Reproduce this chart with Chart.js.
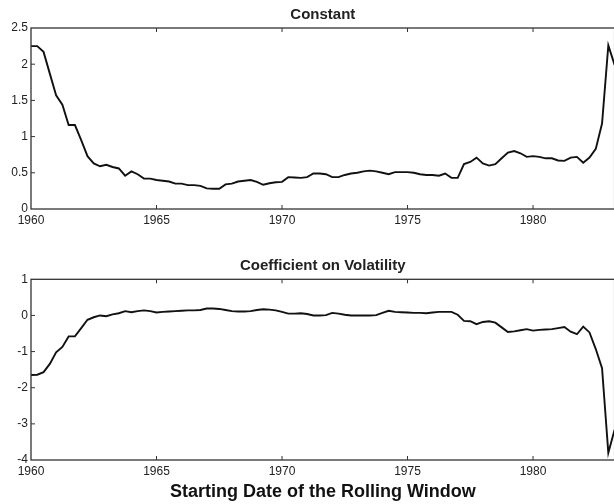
<!DOCTYPE html>
<html>
<head>
<meta charset="utf-8">
<script src="https://cdn.jsdelivr.net/npm/chart.js@4.4.1/dist/chart.umd.min.js"></script>
<style>
  html, body { margin: 0; padding: 0; background: #fff; overflow: hidden; width: 614px; height: 504px; }
  .panel { position: absolute; left: 0; }
  #topBox { top: 0; width: 620px; height: 230px; }
  #bottomBox { top: 240px; width: 620px; height: 264px; }
</style>
</head>
<body>
<div class="panel" id="topBox"><canvas id="constChart" width="620" height="230"></canvas></div>
<div class="panel" id="bottomBox"><canvas id="volChart" width="620" height="264"></canvas></div>
<script>
// quarterly starting dates of the rolling window, 1960Q1 .. 1983Q2
const startDates = [];
for (let i = 0; i < 94; i++) startDates.push(1960 + i / 4);

const constantValues = [
  2.25, 2.25, 2.17, 1.87, 1.57, 1.44, 1.16, 1.16, 0.95, 0.73, 0.63, 0.59,
  0.61, 0.58, 0.56, 0.46, 0.52, 0.48, 0.42, 0.42, 0.40, 0.39, 0.38, 0.35,
  0.35, 0.33, 0.33, 0.32, 0.285, 0.28, 0.28, 0.34, 0.35, 0.38, 0.39, 0.40,
  0.375, 0.335, 0.355, 0.37, 0.375, 0.44, 0.435, 0.43, 0.44, 0.49, 0.49, 0.48,
  0.44, 0.44, 0.47, 0.49, 0.50, 0.52, 0.53, 0.52, 0.50, 0.48, 0.51, 0.51,
  0.51, 0.50, 0.48, 0.47, 0.47, 0.46, 0.49, 0.43, 0.43, 0.62, 0.65, 0.71,
  0.63, 0.60, 0.62, 0.70, 0.78, 0.80, 0.77, 0.72, 0.73, 0.72, 0.70, 0.70,
  0.67, 0.665, 0.71, 0.72, 0.64, 0.71, 0.83, 1.18, 2.26, 1.99
];

const volatilityValues = [
  -1.65, -1.64, -1.57, -1.34, -1.02, -0.87, -0.58, -0.58, -0.35, -0.12, -0.05, 0.00,
  -0.02, 0.03, 0.06, 0.12, 0.09, 0.12, 0.14, 0.12, 0.08, 0.10, 0.11, 0.12,
  0.13, 0.14, 0.14, 0.15, 0.19, 0.19, 0.18, 0.15, 0.12, 0.11, 0.11, 0.12,
  0.15, 0.17, 0.16, 0.14, 0.10, 0.05, 0.05, 0.06, 0.04, 0.00, 0.00, 0.01,
  0.07, 0.05, 0.02, 0.00, 0.00, 0.00, 0.00, 0.01, 0.07, 0.13, 0.10, 0.09,
  0.08, 0.07, 0.07, 0.06, 0.08, 0.10, 0.10, 0.10, 0.02, -0.15, -0.16, -0.24,
  -0.18, -0.16, -0.20, -0.33, -0.46, -0.44, -0.41, -0.38, -0.42, -0.40, -0.39, -0.38,
  -0.35, -0.32, -0.45, -0.52, -0.31, -0.47, -0.93, -1.46, -3.80, -3.16
];

const xTickYears = [1960, 1965, 1970, 1975, 1980];
const constTicks = [0, 0.5, 1, 1.5, 2, 2.5];
const volTicks = [-4, -3, -2, -1, 0, 1];

const fontFamily = '"Liberation Sans", Arial, Helvetica, sans-serif';
const inkColor = '#222';

function toPoints(values) {
  return values.map((v, i) => ({ x: startDates[i], y: v }));
}

// matlab-like box with inward tick marks
const framePlugin = {
  id: 'frame',
  afterDatasetsDraw(chart) {
    const { ctx, chartArea: a, scales } = chart;
    ctx.save();
    ctx.strokeStyle = '#333';
    ctx.lineWidth = 1.3;
    ctx.strokeRect(a.left, a.top, a.right - a.left, a.bottom - a.top);
    ctx.lineWidth = 1;
    ctx.beginPath();
    scales.x.ticks.forEach(t => {
      const px = scales.x.getPixelForValue(t.value);
      if (px <= a.left + 1 || px >= a.right - 1) return;
      ctx.moveTo(px, a.bottom); ctx.lineTo(px, a.bottom - 4);
      ctx.moveTo(px, a.top); ctx.lineTo(px, a.top + 4);
    });
    scales.y.ticks.forEach(t => {
      const py = scales.y.getPixelForValue(t.value);
      if (py <= a.top + 1 || py >= a.bottom - 1) return;
      ctx.moveTo(a.left, py); ctx.lineTo(a.left + 4, py);
    });
    ctx.stroke();
    ctx.restore();
  }
};

function makeOptions(title, titlePad, yTicks, xAxisHeight, xLabel) {
  return {
    responsive: false,
    animation: false,
    layout: { padding: { left: 0, right: 5.4, top: 0, bottom: 0 } },
    plugins: {
      legend: { display: false },
      tooltip: { enabled: false },
      title: {
        display: true,
        text: title,
        fullSize: false,
        color: inkColor,
        font: { family: fontFamily, size: 15, weight: 'bold', lineHeight: 1.2 },
        padding: titlePad
      }
    },
    scales: {
      x: {
        type: 'linear',
        min: 1960,
        max: 1983.25,
        grid: { display: false, drawTicks: false },
        border: { display: false },
        afterBuildTicks: scale => { scale.ticks = xTickYears.map(v => ({ value: v })); },
        afterFit: scale => { scale.height = xAxisHeight; },
        ticks: {
          color: inkColor,
          padding: 4,
          maxRotation: 0,
          font: { family: fontFamily, size: 12 },
          callback: v => String(v)
        },
        title: {
          display: !!xLabel,
          text: xLabel || '',
          color: '#111',
          font: { family: fontFamily, size: 18, weight: 'bold', lineHeight: 1.2 },
          padding: { top: 0, bottom: 1.4 }
        }
      },
      y: {
        min: yTicks[0],
        max: yTicks[yTicks.length - 1],
        grid: { display: false, drawTicks: false },
        border: { display: false },
        afterBuildTicks: scale => { scale.ticks = yTicks.map(v => ({ value: v })); },
        afterFit: scale => { scale.width = 31; },
        ticks: {
          color: inkColor,
          padding: 3,
          font: { family: fontFamily, size: 12 },
          callback: v => String(v)
        }
      }
    }
  };
}

function lineDataset(values) {
  return {
    data: toPoints(values),
    borderColor: '#111',
    borderWidth: 1.9,
    pointRadius: 0,
    tension: 0,
    fill: false
  };
}

const ctxTop = document.getElementById('constChart').getContext('2d');
const constChart = new Chart(ctxTop, {
  type: 'line',
  data: { datasets: [lineDataset(constantValues)] },
  options: makeOptions('Constant', { top: 5.5, bottom: 4.5 }, constTicks, 21, null),
  plugins: [framePlugin]
});

const ctxBottom = document.getElementById('volChart').getContext('2d');
const volChart = new Chart(ctxBottom, {
  type: 'line',
  data: { datasets: [lineDataset(volatilityValues)] },
  options: makeOptions('Coefficient on Volatility', { top: 16.4, bottom: 4.9 }, volTicks, 44,
    'Starting Date of the Rolling Window'),
  plugins: [framePlugin]
});
</script>
</body>
</html>
